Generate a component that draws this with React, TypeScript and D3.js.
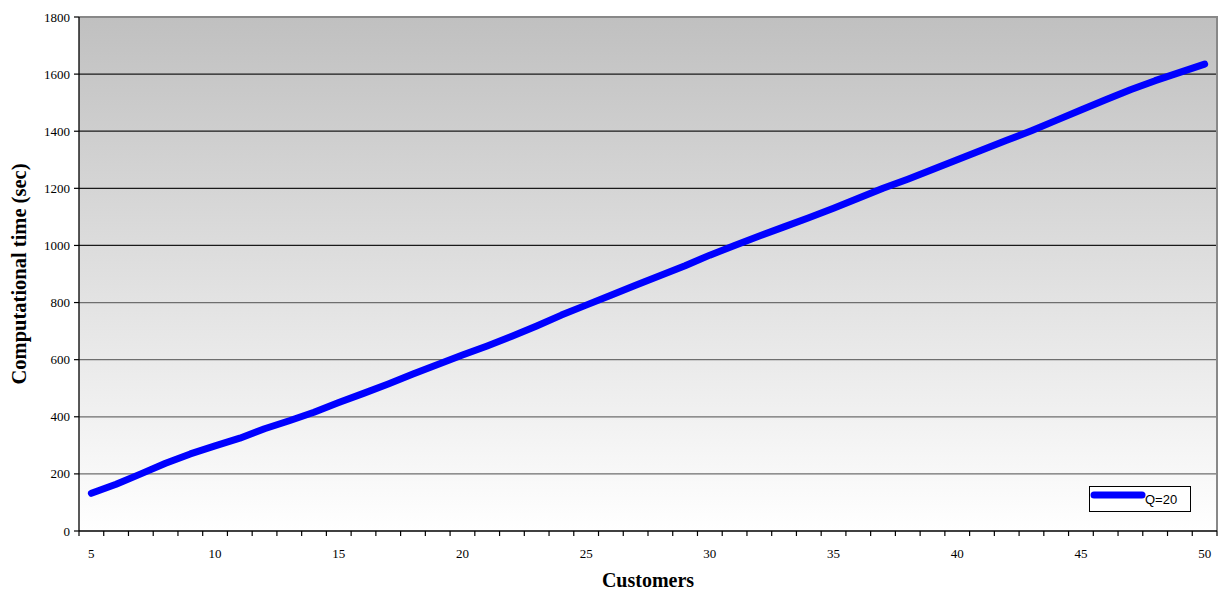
import React from "react";
import * as d3 from "d3";

const customers: number[] = d3.range(5, 51);
const times: number[] = [
  132, 164, 200, 237, 270, 298, 325, 358, 386, 416, 450, 482, 515, 550, 583, 616,
  648, 682, 718, 756, 791, 826, 861, 895, 929, 966, 1000, 1033, 1065, 1097, 1130,
  1165, 1200, 1232, 1266, 1300, 1334, 1368, 1402, 1438, 1474, 1510, 1545, 1577, 1606, 1635,
];
const yTicks: number[] = [0, 200, 400, 600, 800, 1000, 1200, 1400, 1600, 1800];
const xLabelValues: number[] = [5, 10, 15, 20, 25, 30, 35, 40, 45, 50];
const seriesName = "Q=20";

const W = 1219;
const H = 593;
const left = 79;
const right = 1217;
const top = 17;
const bottom = 531;

export default function App() {
  const x = d3.scaleBand<number>().domain(customers).range([left, right]).padding(0);
  const y = d3.scaleLinear().domain([0, 1800]).range([bottom, top]);
  const cx = (c: number) => (x(c) as number) + x.bandwidth() / 2;
  const line = d3
    .line<number>()
    .x((_, i) => cx(customers[i]))
    .y((d) => y(d))
    .curve(d3.curveLinear);
  const boundaries = customers.map((c) => x(c) as number).concat([right]);
  const serif = "'Times New Roman', 'Liberation Serif', serif";

  return (
    <svg
      width={W}
      height={H}
      style={{ position: "absolute", left: 0, top: 0, display: "block" }}
    >
      <defs>
        <linearGradient id="bg" x1="0" y1="0" x2="0" y2="1">
          <stop offset="0%" stopColor="#c0c0c0" />
          <stop offset="100%" stopColor="#ffffff" />
        </linearGradient>
      </defs>
      <rect x={0} y={0} width={W} height={H} fill="#fff" />
      <rect x={left} y={top} width={right - left} height={bottom - top} fill="url(#bg)" />
      {yTicks
        .filter((t) => t > 0 && t < 1800)
        .map((t) => (
          <line
            key={"g" + t}
            x1={left}
            x2={right}
            y1={y(t)}
            y2={y(t)}
            stroke={t < 1000 ? "#6e6e6e" : "#1a1a1a"}
            strokeWidth={1.2}
          />
        ))}
      <line x1={left} x2={right + 1} y1={top} y2={top} stroke="#888" strokeWidth={2} />
      <line x1={right} x2={right} y1={top} y2={bottom} stroke="#888" strokeWidth={2} />
      <line x1={left} x2={left} y1={top} y2={bottom} stroke="#000" strokeWidth={1.3} />
      <line x1={left} x2={right} y1={bottom} y2={bottom} stroke="#000" strokeWidth={1.3} />
      {yTicks.map((t) => (
        <g key={"y" + t}>
          <line x1={left - 5} x2={left} y1={y(t)} y2={y(t)} stroke="#000" strokeWidth={1.2} />
          <text
            x={70}
            y={y(t)}
            dy="0.35em"
            textAnchor="end"
            fontFamily={serif}
            fontSize={13}
            fill="#000"
          >
            {t}
          </text>
        </g>
      ))}
      {boundaries.map((b, i) => (
        <line key={"xt" + i} x1={b} x2={b} y1={bottom} y2={bottom + 5} stroke="#000" strokeWidth={1.2} />
      ))}
      {xLabelValues.map((v) => (
        <text
          key={"xl" + v}
          x={cx(v)}
          y={558}
          textAnchor="middle"
          fontFamily={serif}
          fontSize={13}
          fill="#000"
        >
          {v}
        </text>
      ))}
      <path
        d={line(times) || ""}
        fill="none"
        stroke="#0000ff"
        strokeWidth={7}
        strokeLinecap="round"
        strokeLinejoin="round"
      />
      <rect x={1089.5} y={486.5} width={101} height={25} fill="#fff" stroke="#000" strokeWidth={1} />
      <line x1={1094} x2={1142} y1={495} y2={495} stroke="#0000ff" strokeWidth={7} strokeLinecap="round" />
      <text x={1145} y={504} fontFamily="Arial, 'Liberation Sans', sans-serif" fontSize={13} fill="#000">
        {seriesName}
      </text>
      <text
        x={648}
        y={587}
        textAnchor="middle"
        fontFamily={serif}
        fontWeight="bold"
        fontSize={20}
        fill="#000"
      >
        Customers
      </text>
      <text
        transform={`translate(26, ${(top + bottom) / 2}) rotate(-90)`}
        textAnchor="middle"
        fontFamily={serif}
        fontWeight="bold"
        fontSize={20.5}
        fill="#000"
      >
        Computational time (sec)
      </text>
    </svg>
  );
}
